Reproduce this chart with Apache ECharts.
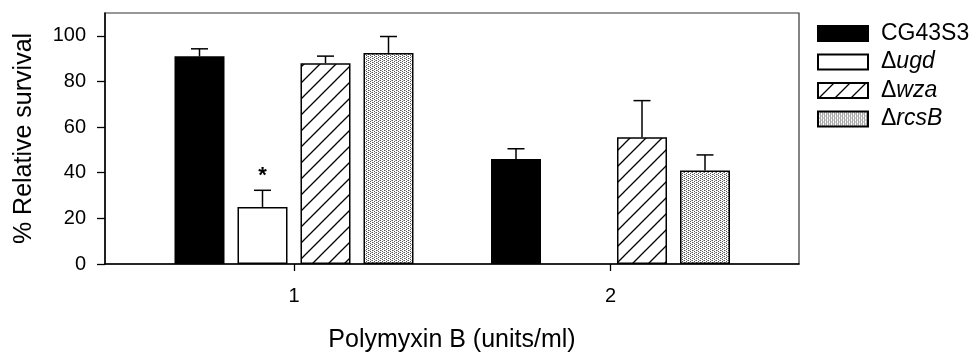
<!DOCTYPE html>
<html>
<head>
<meta charset="utf-8">
<script src="https://cdn.jsdelivr.net/npm/echarts@6/dist/echarts.min.js"></script>
<style>
  html, body { margin: 0; padding: 0; background: #fff; }
  #chart { width: 978px; height: 361px; }
</style>
</head>
<body>
<div id="chart"></div>
<script>
// 数据
var doses = ['1', '2'];
var yTicks = [0, 20, 40, 60, 80, 100];
var strainNames = ['CG43S3', 'Δugd', 'Δwza', 'ΔrcsB'];
var cg43s3 = [91.0, 46.0];
var ugd = [25.0, null];
var wza = [88.0, 55.6];
var rcsB = [92.5, 41.0];
// 误差（向上）
var cg43s3Err = [3.3, 4.5];
var ugdErr = [7.3, null];
var wzaErr = [3.1, 16.0];
var rcsBErr = [7.2, 6.8];
// 显著性标记
var ugdSig = ['*', ''];

var font = 'Liberation Sans, Arial, sans-serif';
var barWidth = 50;
var barPitch = 63; // 柱宽 + 间距

// 斜线填充
function hatchPattern () {
    var c = document.createElement('canvas');
    c.width = 16; c.height = 16;
    var ctx = c.getContext('2d');
    ctx.fillStyle = '#fff';
    ctx.fillRect(0, 0, 16, 16);
    ctx.strokeStyle = '#000';
    ctx.lineWidth = 1.3;
    ctx.beginPath();
    ctx.moveTo(-2, 18); ctx.lineTo(18, -2);
    ctx.moveTo(-2, 2); ctx.lineTo(2, -2);
    ctx.moveTo(14, 18); ctx.lineTo(18, 14);
    ctx.stroke();
    return c;
}
// 点状填充
function dotPattern () {
    var c = document.createElement('canvas');
    c.width = 4; c.height = 4;
    var ctx = c.getContext('2d');
    ctx.fillStyle = '#fff';
    ctx.fillRect(0, 0, 4, 4);
    ctx.fillStyle = '#555';
    ctx.fillRect(0, 0, 1, 1);
    ctx.fillRect(2, 1, 1, 1);
    ctx.fillRect(0, 2, 1, 1);
    ctx.fillRect(2, 3, 1, 1);
    ctx.fillStyle = '#aaa';
    ctx.fillRect(1, 2, 1, 1);
    ctx.fillRect(3, 0, 1, 1);
    return c;
}

var fills = [
    '#000',
    '#fff',
    { image: hatchPattern(), repeat: 'repeat' },
    { image: dotPattern(), repeat: 'repeat' }
];
var means = [cg43s3, ugd, wza, rcsB];
var errs = [cg43s3Err, ugdErr, wzaErr, rcsBErr];

var series = [];
strainNames.forEach(function (name, k) {
    series.push({
        name: name,
        type: 'bar',
        xAxisIndex: 1,
        yAxisIndex: 1,
        barWidth: barWidth,
        barGap: '26%',
        data: means[k],
        itemStyle: { color: fills[k], borderColor: '#000', borderWidth: 1.5 }
    });
});
strainNames.forEach(function (name, k) {
    series.push({
        type: 'custom',
        xAxisIndex: 1,
        yAxisIndex: 1,
        z: 5,
        silent: true,
        data: means[k].map(function (v, i) { return [i, v, errs[k][i]]; }),
        renderItem: function (params, api) {
            var v = api.value(1);
            var e = api.value(2);
            if (isNaN(v) || isNaN(e)) return;
            var off = (k - 1.5) * barPitch;
            var base = api.coord([api.value(0), v]);
            var top = api.coord([api.value(0), v + e]);
            var x = base[0] + off;
            var children = [
                { type: 'line', shape: { x1: x, y1: base[1], x2: x, y2: top[1] }, style: { stroke: '#000', lineWidth: 1.5 } },
                { type: 'line', shape: { x1: x - 8.5, y1: top[1], x2: x + 8.5, y2: top[1] }, style: { stroke: '#000', lineWidth: 1.5 } }
            ];
            if (k === 1 && ugdSig[params.dataIndex]) {
                children.push({
                    type: 'text',
                    style: { text: ugdSig[params.dataIndex], x: x, y: top[1] - 14, align: 'center', verticalAlign: 'middle', font: 'bold 22px ' + font, fill: '#000' }
                });
            }
            return { type: 'group', children: children };
        }
    });
});

var chart = echarts.init(document.getElementById('chart'));
chart.setOption({
    animation: false,
    backgroundColor: '#fff',
    textStyle: { fontFamily: font, color: '#000' },
    grid: [
        // 外框
        { left: 105, right: 179, top: 13, bottom: 97, outerBoundsMode: 'none', containLabel: false, show: true, borderColor: '#333', borderWidth: 1.2 },
        // 柱状图
        { left: 135.75, right: 209.25, top: 13, bottom: 97, outerBoundsMode: 'none', containLabel: false }
    ],
    legend: {
        orient: 'vertical',
        left: 812,
        top: 17,
        itemWidth: 50,
        itemHeight: 15,
        itemGap: 5.5,
        icon: 'rect',
        data: strainNames,
        formatter: function (name) {
            if (name.charAt(0) === 'Δ') return '{d|Δ}{i|' + name.slice(1) + '}';
            return '{d|' + name + '}';
        },
        textStyle: {
            color: '#000',
            fontSize: 23,
            fontFamily: font,
            padding: [0, 0, 0, 8],
            rich: {
                d: { fontSize: 23, fontFamily: font, color: '#000', lineHeight: 21 },
                i: { fontSize: 23, fontFamily: font, color: '#000', fontStyle: 'italic', lineHeight: 21 }
            }
        }
    },
    xAxis: [
        {
            gridIndex: 0,
            type: 'value',
            min: 0,
            max: 1,
            name: 'Polymyxin B (units/ml)',
            nameLocation: 'middle',
            nameGap: 64,
            nameTextStyle: { fontSize: 25, color: '#000', fontFamily: font },
            axisLine: { show: true, lineStyle: { color: '#000', width: 1.5 } },
            axisTick: { show: false },
            axisLabel: { show: false },
            splitLine: { show: false }
        },
        {
            gridIndex: 1,
            type: 'category',
            data: doses,
            axisLine: { show: false },
            axisTick: { show: true, alignWithLabel: true, length: 7, lineStyle: { color: '#000', width: 1.3 } },
            axisLabel: { fontSize: 20, color: '#000', margin: 22, fontFamily: font },
            splitLine: { show: false }
        }
    ],
    yAxis: [
        {
            gridIndex: 0,
            type: 'value',
            min: 0,
            max: 110,
            name: '% Relative survival',
            nameLocation: 'middle',
            nameGap: 68,
            nameTextStyle: { fontSize: 25, color: '#000', fontFamily: font },
            axisLine: { show: true, lineStyle: { color: '#000', width: 1.5 } },
            axisTick: { show: true, length: 8, customValues: yTicks, lineStyle: { color: '#000', width: 1.3 } },
            axisLabel: { fontSize: 20, color: '#000', margin: 19, customValues: yTicks, fontFamily: font },
            splitLine: { show: false }
        },
        {
            gridIndex: 1,
            type: 'value',
            min: 0,
            max: 110,
            show: false,
            splitLine: { show: false }
        }
    ],
    series: series
});
</script>
</body>
</html>
